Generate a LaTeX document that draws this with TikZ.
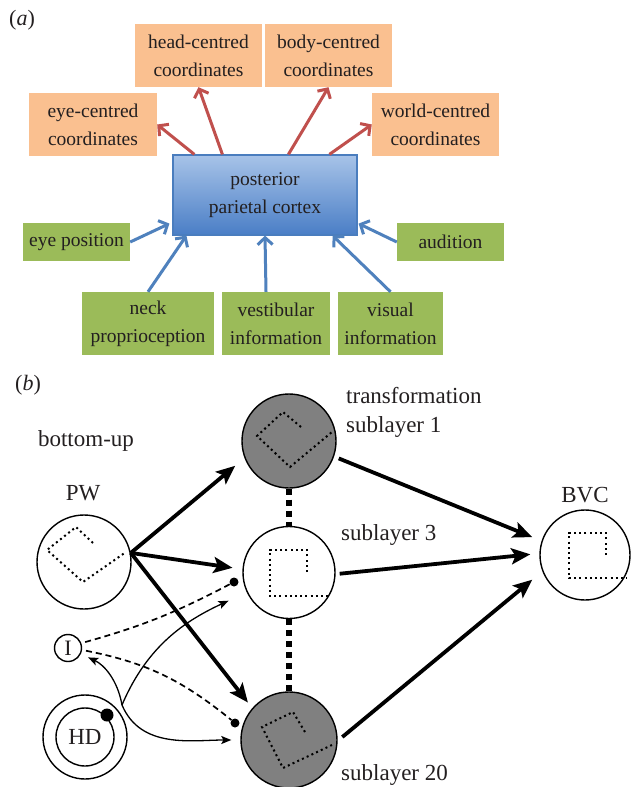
\documentclass[tikz,border=0pt]{standalone}
\usepackage{fontspec}
\setmainfont{Liberation Serif}
\usetikzlibrary{arrows.meta,calc,shapes.geometric}
\definecolor{orng}{HTML}{FAC090}
\definecolor{grn}{HTML}{9BBB59}
\definecolor{redarr}{HTML}{C0504D}
\definecolor{bluearr}{HTML}{4F81BD}
\definecolor{boxtop}{HTML}{A7C3E8}
\definecolor{boxbot}{HTML}{4A7EC6}
\definecolor{boxline}{HTML}{4A7DBE}
\definecolor{txt}{HTML}{231F20}
\definecolor{cellgray}{HTML}{808080}
\begin{document}
\begin{tikzpicture}[x=1pt,y=1pt,
  afont/.style={font=\fontsize{19.5}{28}\selectfont, text=txt},
  bfont/.style={font=\fontsize{23}{29}\selectfont, text=txt},
  obox/.style 2 args={afont, fill=orng, minimum width=#1, minimum height=#2, inner sep=0pt, align=center},
  gbox/.style 2 args={afont, fill=grn, minimum width=#1, minimum height=#2, inner sep=0pt, align=center},
  ppcbox/.style={afont, top color=boxtop, bottom color=boxbot, draw=boxline, line width=1.2pt,
    minimum width=184, minimum height=80, inner sep=0pt, align=center},
  redA/.style={draw=redarr, line width=3pt, -{Straight Barb[length=7pt,width=15pt]}},
  blueA/.style={draw=bluearr, line width=3pt, -{Straight Barb[length=7pt,width=15pt]}},
  cell/.style={circle, draw=black, line width=1.4pt, minimum size=#1, inner sep=0pt},
  dotnode/.style={circle, fill=black, minimum size=#1, inner sep=0pt},
  dotsq/.style={line width=2pt, dash pattern=on 2pt off 3.2pt},
  chainL/.style={line width=6pt, dash pattern=on 6pt off 5pt},
  thickA/.style={line width=3.8pt, -{Stealth[length=19pt,width=16pt,inset=4pt]}},
  thinA/.style={line width=1.3pt, -{Stealth[length=10pt,width=8pt,inset=2pt]}},
  dashL/.style={line width=1.7pt, dash pattern=on 6pt off 4pt},
  lbl/.style={bfont, inner sep=0pt}
]
\fill[white] (0,0) rectangle (640,-787);
\useasboundingbox (0,0) rectangle (640,-787);

% ---------------- (a) ----------------
\node[lbl, font=\fontsize{22}{26}\selectfont] (la) at (22,-20) {(\textit{a})};
\node[obox={127}{63}] (head) at (198.5,-55.5) {head-centred\\coordinates};
\node[obox={127}{63}] (body) at (328.5,-55.5) {body-centred\\coordinates};
\node[obox={128}{63}] (eye) at (93,-124.5) {eye-centred\\coordinates};
\node[obox={127}{63}] (world) at (435.5,-124.5) {world-centred\\coordinates};
\node[ppcbox] (ppc) at (265,-195) {posterior\\parietal cortex};
\node[gbox={107}{38}] (ep) at (76.5,-242) {eye position};
\node[gbox={107}{38}] (aud) at (450.5,-242) {audition};
\node[gbox={132}{63}] (neck) at (148,-323.5) {neck\\proprioception};
\node[gbox={108}{63}] (vest) at (276,-323.5) {vestibular\\information};
\node[gbox={105}{63}] (vis) at (390.5,-323.5) {visual\\information};

\draw[redA] ($(ppc.north west)+(22,0)$) -- (eye.east);
\draw[redA] ($(ppc.north west)+(50,0)$) -- (head.south);
\draw[redA] ($(ppc.north west)+(116,0)$) -- (body.south);
\draw[redA] ($(ppc.north west)+(157,0)$) -- (world.west);

\draw[blueA] (ep.east) -- ($(ppc.south west)+(-3,12)$);
\draw[blueA] (neck.north) -- ($(ppc.south west)+(14,0)$);
\draw[blueA] ($(vest.north)+(-10,0)$) -- (ppc.south);
\draw[blueA] (vis.north) -- ($(ppc.south east)+(-25,0)$);
\draw[blueA] (aud.west) -- ($(ppc.south east)+(1,12)$);

% ---------------- (b) ----------------
\node[lbl, font=\fontsize{22}{26}\selectfont] (lb) at (28,-385) {(\textit{b})};
\node[lbl] (bu) at (86,-441) {bottom-up};
\node[lbl] (pwl) at (83,-493) {PW};
\node[lbl, anchor=west, align=left, font=\fontsize{23}{29}\selectfont] (tl) at (346,-412) {transformation\\sublayer 1};
\node[lbl, anchor=west] (s3l) at (341,-535) {sublayer 3};
\node[lbl, anchor=west] (s20l) at (341,-775) {sublayer 20};
\node[lbl] (bvcl) at (585,-495) {BVC};

\node[cell=94] (pw) at (84,-562) {};
\node[cell=27, bfont, font=\fontsize{22}{26}\selectfont] (i) at (68,-648) {I};
\node[cell=84] (hdo) at (85,-737) {};
\node[cell=58, bfont] (hd) at (85,-737) {HD};
\node[dotnode=13] (hdd) at (107,-715) {};
\node[cell=94, fill=cellgray] (sl1) at (289,-441) {};
\node[cell=92] (sl3) at (289,-572.5) {};
\node[cell=96, fill=cellgray] (sl20) at (289,-740) {};
\node[cell=90] (bvc) at (585,-555) {};
\node[dotnode=9] (d3) at (234,-582) {};
\node[dotnode=9] (d20) at (235,-723) {};
\coordinate (hub) at (122,-705);

% dotted squares inside the cells
\draw[dotsq] (93,-543) -- (76,-527) -- (47,-550) -- (83,-582) -- (126,-552);
\draw[dotsq] (301,-427) -- (283,-412) -- (257,-436) -- (290,-467) -- (332,-432);
\draw[dotsq] (307,-572) -- (307,-550) -- (270,-550) -- (270,-596) -- (328,-596);
\draw[dotsq] (305,-732) -- (293,-712) -- (262,-727) -- (283,-768) -- (332,-745);
\draw[dotsq] (606,-555) -- (606,-533) -- (569,-533) -- (569,-578) -- (627,-578);

% sublayer chain
\draw[chainL] (sl1.south) -- (sl3.north);
\draw[chainL] (sl3.south) -- (sl20.north);

% thick arrows
\draw[thickA, shorten >=12pt] (pw.11) -- (sl1.201);
\draw[thickA, shorten >=10pt] (pw.11) -- (sl3.176);
\draw[thickA, shorten >=7pt] (pw.11) -- (sl20.139);
\draw[thickA, shorten <=5pt, shorten >=10pt] (sl1.-19) -- (bvc.162);
\draw[thickA, shorten <=4pt, shorten >=9pt] (sl3.-2) -- (bvc.178);
\draw[thickA, shorten <=6pt, shorten >=13pt] (sl20.-1) -- (bvc.201);

% dashed inhibitory lines
\draw[dashL, shorten <=4pt] (i.20) to[bend right=6] (d3);
\draw[dashL, shorten <=4pt] (i.-8) to[bend left=14] (d20);

% thin arrows from HD
\draw[thinA, shorten >=8pt] (hub) to[out=100,in=-25] (i);
\draw[thinA, shorten >=20pt] (hub) to[out=67,in=205] (sl3);
\draw[thinA, shorten >=9pt] (hub) to[out=-67,in=180] (sl20);
\end{tikzpicture}
\end{document}
